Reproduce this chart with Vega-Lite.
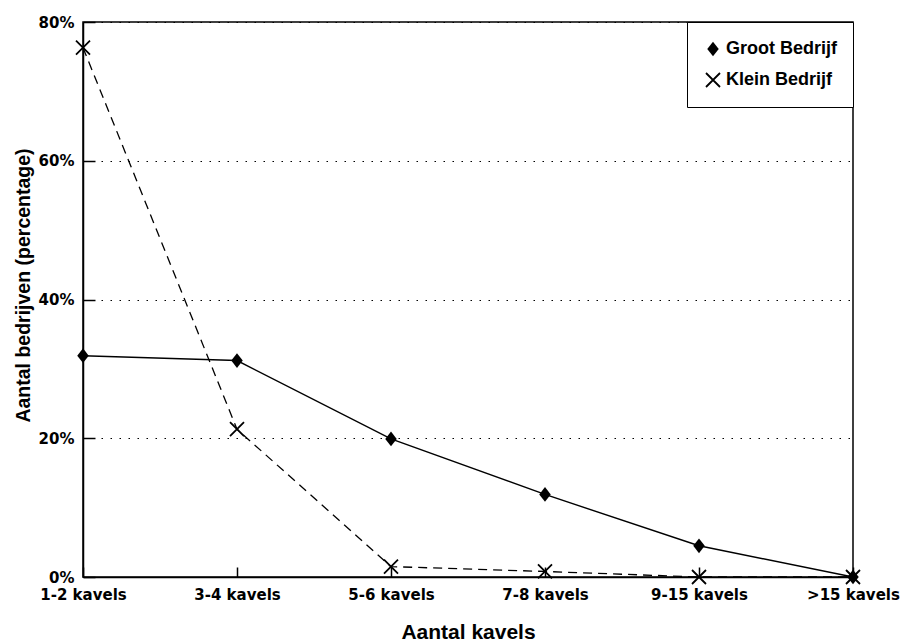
{
  "$schema": "https://vega.github.io/schema/vega-lite/v6.json",
  "width": 770,
  "height": 555,
  "autosize": {"type": "none"},
  "padding": {"left": 83, "top": 22, "right": 49, "bottom": 65},
  "background": "white",
  "config": {
    "view": {"stroke": "black", "strokeWidth": 1.5},
    "font": "DejaVu Sans"
  },
  "data": {
    "values": [
      {"k": "1-2 kavels", "s": "Groot Bedrijf", "v": 31.9},
      {"k": "3-4 kavels", "s": "Groot Bedrijf", "v": 31.2},
      {"k": "5-6 kavels", "s": "Groot Bedrijf", "v": 19.9},
      {"k": "7-8 kavels", "s": "Groot Bedrijf", "v": 11.9},
      {"k": "9-15 kavels", "s": "Groot Bedrijf", "v": 4.5},
      {"k": ">15 kavels", "s": "Groot Bedrijf", "v": 0},
      {"k": "1-2 kavels", "s": "Klein Bedrijf", "v": 76.3},
      {"k": "3-4 kavels", "s": "Klein Bedrijf", "v": 21.3},
      {"k": "5-6 kavels", "s": "Klein Bedrijf", "v": 1.5},
      {"k": "7-8 kavels", "s": "Klein Bedrijf", "v": 0.8},
      {"k": "9-15 kavels", "s": "Klein Bedrijf", "v": 0},
      {"k": ">15 kavels", "s": "Klein Bedrijf", "v": 0}
    ]
  },
  "encoding": {
    "x": {
      "field": "k",
      "type": "ordinal",
      "sort": ["1-2 kavels", "3-4 kavels", "5-6 kavels", "7-8 kavels", "9-15 kavels", ">15 kavels"],
      "scale": {"type": "point", "padding": 0},
      "axis": {
        "title": "Aantal kavels",
        "titleFont": "Liberation Sans",
        "titleFontSize": 21,
        "titleFontWeight": "bold",
        "titleColor": "black",
        "titlePadding": 19,
        "labelAngle": 0,
        "labelFontSize": 15,
        "labelFontWeight": "bold",
        "labelColor": "black",
        "labelPadding": 20,
        "labelOverlap": false,
        "labelBound": false,
        "labelFlush": false,
        "domainColor": "black",
        "domainWidth": 1.5,
        "tickColor": "black",
        "tickWidth": 1.5,
        "tickSize": -10,
        "grid": false
      }
    },
    "y": {
      "field": "v",
      "type": "quantitative",
      "scale": {"domain": [0, 80], "nice": false},
      "axis": {
        "title": "Aantal bedrijven (percentage)",
        "titleFont": "Liberation Sans",
        "titleFontSize": 19.5,
        "titleFontWeight": "bold",
        "titleColor": "black",
        "titleX": -54,
        "titleY": 263,
        "titleBaseline": "alphabetic",
        "titleAngle": 270,
        "titleAlign": "center",
        "values": [0, 20, 40, 60, 80],
        "labelExpr": "datum.value + '%'",
        "labelFontSize": 15,
        "labelFontWeight": "bold",
        "labelColor": "black",
        "labelPadding": 21,
        "domainColor": "black",
        "domainWidth": 1.5,
        "tickColor": "black",
        "tickWidth": 1.5,
        "tickSize": -12,
        "grid": true,
        "gridColor": "black",
        "gridOpacity": 1,
        "gridDash": [1.5, 7.5],
        "gridWidth": 1.2
      }
    }
  },
  "layer": [
    {
      "transform": [{"filter": "datum.s === 'Groot Bedrijf'"}],
      "mark": {"type": "line", "color": "black", "strokeWidth": 1.4},
      "encoding": {}
    },
    {
      "transform": [{"filter": "datum.s === 'Klein Bedrijf'"}],
      "mark": {"type": "line", "color": "black", "strokeWidth": 1.3, "strokeDash": [9, 6]},
      "encoding": {}
    },
    {
      "mark": {"type": "point", "filled": true, "color": "black", "opacity": 1, "size": 196},
      "encoding": {
        "shape": {
          "field": "s",
          "type": "nominal",
          "scale": {
            "domain": ["Groot Bedrijf", "Klein Bedrijf"],
            "range": ["M0,-1.05L0.82,0L0,1.05L-0.82,0Z", "M-0.91,-1.09L1.09,0.91L0.91,1.09L-1.09,-0.91ZM-1.09,0.91L0.91,-1.09L1.09,-0.91L-0.91,1.09Z"]
          },
          "legend": {
            "title": null,
            "orient": "top-right",
            "offset": 0,
            "fillColor": "white",
            "strokeColor": "black",
            "padding": 16,
            "symbolOffset": 1,
            "rowPadding": 9,
            "clipHeight": 22,
            "labelFont": "Liberation Sans",
            "labelFontSize": 18,
            "labelFontWeight": "bold",
            "labelColor": "black",
            "labelOffset": 4,
            "symbolSize": 196,
            "symbolFillColor": "black",
            "symbolStrokeColor": "black",
            "symbolStrokeWidth": 0,
            "symbolOpacity": 1
          }
        }
      }
    }
  ]
}
